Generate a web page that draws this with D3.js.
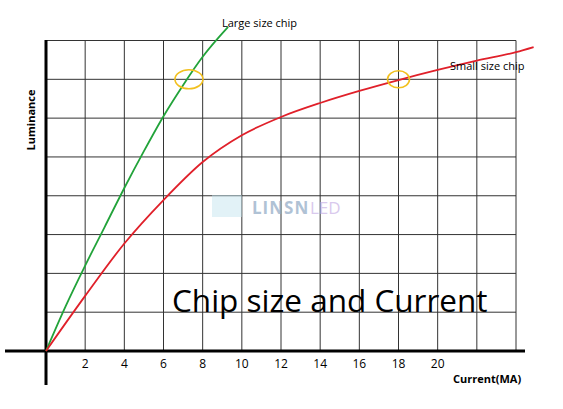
<!DOCTYPE html>
<html>
<head>
<meta charset="utf-8">
<script src="https://d3js.org/d3.v7.min.js"></script>
<style>
  body { margin: 0; background: #fff; }
  text { font-family: "Open Sans", "Noto Sans", sans-serif; }
</style>
</head>
<body>
<svg id="chart" width="563" height="409"></svg>
<script>
  const xTicks = [2, 4, 6, 8, 10, 12, 14, 16, 18, 20];
  const largeX = [0, 1, 2, 3, 4, 5, 6, 7, 8, 9.3];
  const largeY = [0, 1.15, 2.2, 3.2, 4.2, 5.15, 6.05, 6.85, 7.58, 8.35];
  const smallX = [0, 2, 4, 6, 8, 10, 12, 14, 16, 18, 20, 22, 24, 24.9];
  const smallY = [0, 1.42, 2.77, 3.89, 4.87, 5.56, 6.03, 6.39, 6.7, 6.98, 7.24, 7.48, 7.7, 7.83];
  const marks = [[7.3, 7, 14, 9.5], [18, 7, 11, 8.5]];

  const svg = d3.select("#chart");
  const x = d3.scaleLinear().domain([0, 24]).range([46, 516]);
  const y = d3.scaleLinear().domain([0, 8]).range([351, 40.5]);

  // grid
  const grid = svg.append("g").attr("stroke", "#333").attr("stroke-width", 1);
  grid.selectAll(".v").data(d3.range(2, 25, 2)).join("line")
    .attr("x1", d => x(d)).attr("x2", d => x(d)).attr("y1", y(8)).attr("y2", y(0));
  grid.selectAll(".h").data(d3.range(1, 9)).join("line")
    .attr("x1", x(0)).attr("x2", x(24)).attr("y1", d => y(d)).attr("y2", d => y(d));

  // watermark
  svg.append("rect").attr("x", 212).attr("y", 195).attr("width", 30).attr("height", 22)
    .attr("fill", "#bfe3ee").attr("opacity", 0.45);
  svg.append("text").attr("x", 252).attr("y", 214).attr("font-size", 17).attr("font-weight", "bold")
    .attr("letter-spacing", 1).attr("fill", "#8fa9c4").attr("opacity", 0.7).text("LINSN");
  svg.append("text").attr("x", 310).attr("y", 214).attr("font-size", 17)
    .attr("fill", "#c9b3e6").attr("opacity", 0.7).text("LED");

  // axes
  svg.append("line").attr("x1", 5).attr("x2", 525).attr("y1", y(0)).attr("y2", y(0))
    .attr("stroke", "#000").attr("stroke-width", 3);
  svg.append("line").attr("x1", x(0)).attr("x2", x(0)).attr("y1", 40).attr("y2", 385)
    .attr("stroke", "#000").attr("stroke-width", 3);

  svg.append("g").selectAll("text").data(xTicks).join("text")
    .attr("x", d => x(d)).attr("y", 368).attr("text-anchor", "middle")
    .attr("font-size", 12).text(d => d);

  const line = d3.line().curve(d3.curveMonotoneX).x(d => x(d[0])).y(d => y(d[1]));
  svg.append("path").datum(largeX.map((v, i) => [v, largeY[i]])).attr("d", line)
    .attr("fill", "none").attr("stroke", "#22a33a").attr("stroke-width", 1.8);
  svg.append("path").datum(smallX.map((v, i) => [v, smallY[i]])).attr("d", line)
    .attr("fill", "none").attr("stroke", "#e0202a").attr("stroke-width", 1.8);

  svg.selectAll(".m").data(marks).join("ellipse")
    .attr("cx", d => x(d[0])).attr("cy", d => y(d[1])).attr("rx", d => d[2]).attr("ry", d => d[3])
    .attr("fill", "none").attr("stroke", "#f2c01e").attr("stroke-width", 1.6);

  svg.append("text").attr("x", 222).attr("y", 27).attr("font-size", 11).text("Large size chip");
  svg.append("text").attr("x", 450).attr("y", 70).attr("font-size", 11).text("Small size chip");
  svg.append("text").attr("x", 172).attr("y", 312).attr("font-size", 31.5).text("Chip size and Current");
  svg.append("text").attr("x", 453).attr("y", 383).attr("font-size", 11).attr("font-weight", "bold").text("Current(MA)");
  svg.append("text").attr("transform", "translate(35,120) rotate(-90)").attr("text-anchor", "middle")
    .attr("font-size", 11).attr("font-weight", "bold").text("Luminance");
</script>
</body>
</html>
